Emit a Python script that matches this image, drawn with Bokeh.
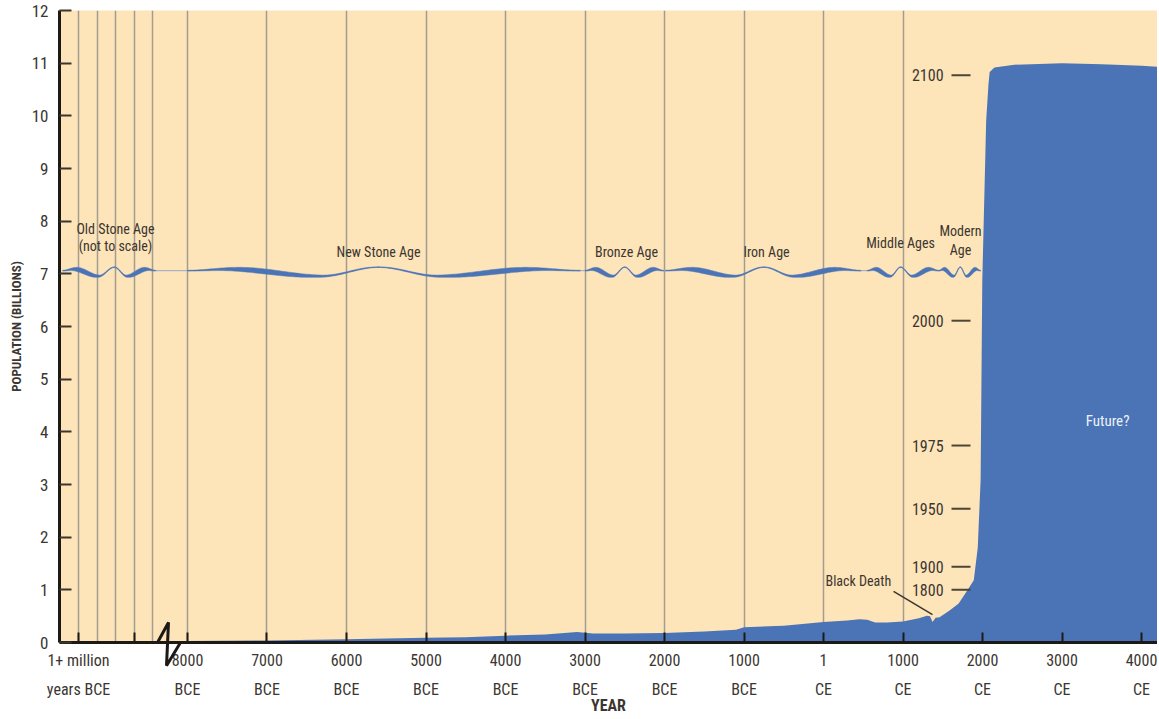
import numpy as np
from bokeh.plotting import figure
from bokeh.models import Range1d, FixedTicker
from bokeh.core.properties import value
from bokeh.embed import file_html
from bokeh.resources import INLINE

# ---------------- data ----------------
# world population (billions) by year (negative = BCE)
pop_years = [-8200, -8000, -7000, -6000, -5000, -4500, -4000, -3500, -3100, -2900,
             -2500, -2000, -1500, -1100, -1000, -500, 1, 300, 450, 550, 650, 800,
             1000, 1200, 1300, 1340, 1371, 1410, 1460, 1590, 1700, 1800, 1890,
             1940, 1976, 1997, 2046, 2075, 2090, 2150, 2400, 3000, 3500, 4000, 4200]
pop_billions = [0.02, 0.03, 0.04, 0.06, 0.09, 0.10, 0.13, 0.15, 0.20, 0.17,
                0.17, 0.18, 0.21, 0.24, 0.29, 0.32, 0.39, 0.42, 0.44, 0.43, 0.38, 0.38,
                0.40, 0.46, 0.51, 0.50, 0.39, 0.47, 0.48, 0.61, 0.74, 0.97, 1.18,
                1.80, 3.08, 6.87, 9.91, 10.60, 10.83, 10.92, 10.97, 11.00, 10.98, 10.95, 10.93]

# x-axis ticks (old stone age part is a compressed, not-to-scale region)
tick_pos = [-9371, -8667, -8000, -7000, -6000, -5000, -4000, -3000, -2000, -1000,
            0, 1000, 2000, 3000, 4000]
tick_labels = ["1+ million\nyears BCE", "", "8000\nBCE", "7000\nBCE", "6000\nBCE",
               "5000\nBCE", "4000\nBCE", "3000\nBCE", "2000\nBCE", "1000\nBCE",
               "1\nCE", "1000\nCE", "2000\nCE", "3000\nCE", "4000\nCE"]
grid_pos = [-9371, -9132, -8906, -8667, -8440, -8000, -7000, -6000, -5000, -4000,
            -3000, -2000, -1000, 0, 1000]
y_ticks = list(range(0, 13))

# ages: start, middle junction, end (display years)
age_start = [-9570, -8000, -3000, -1990, 550, 1450]
age_mid = [-8920, -5600, -2500, -750, 970, 1720]
age_end = [-8400, -3060, -2010, 470, 1450, 1975]
age_text = ["Old Stone Age", "(not to scale)", "New Stone Age", "Bronze Age",
            "Iron Age", "Middle Ages", "Modern", "Age"]
age_text_x = [-8906, -8906, -5597, -2478, -717, 969, 1723, 1723]
age_text_y = [7.86, 7.52, 7.42, 7.42, 7.42, 7.58, 7.82, 7.46]

# population reached in given years (labels beside the curve)
mark_years = ["2100", "2000", "1975", "1950", "1900", "1800"]
mark_pop = [10.77, 6.11, 3.74, 2.54, 1.44, 1.00]

# ---------------- style ----------------
FONT = "Roboto Condensed, Roboto"
TXT = "#3b3631"
BLUE = "#4a74b6"
PEACH = "#fde4b9"
PXY = 52.67  # pixels per billion (for decorative wave shapes)

p = figure(width=1157, height=719, x_range=Range1d(-9610, 4201), y_range=Range1d(0, 12),
           output_backend="svg", toolbar_location=None,
           min_border_left=59, min_border_right=0, min_border_top=10, min_border_bottom=77)
p.background_fill_color = PEACH
p.border_fill_color = "white"
p.outline_line_color = None

# y axis
p.yaxis.ticker = FixedTicker(ticks=y_ticks)
p.yaxis.axis_line_width = 3
p.yaxis.axis_line_color = "#1c1916"
p.yaxis.major_tick_in = 12
p.yaxis.major_tick_out = 0
p.yaxis.major_tick_line_width = 2
p.yaxis.major_tick_line_color = TXT
p.yaxis.minor_tick_line_color = None
p.yaxis.major_label_text_font = FONT
p.yaxis.major_label_text_font_size = "17px"
p.yaxis.major_label_text_color = TXT
p.yaxis.major_label_standoff = 11
p.yaxis.axis_label = "POPULATION (BILLIONS)"
p.yaxis.axis_label_text_font = FONT
p.yaxis.axis_label_text_font_size = "13px"
p.yaxis.axis_label_text_font_style = "bold"
p.yaxis.axis_label_text_color = TXT
p.yaxis.axis_label_standoff = 5

# x axis
p.xaxis.ticker = FixedTicker(ticks=tick_pos)
p.xaxis.major_label_overrides = {t: l for t, l in zip(tick_pos, tick_labels)}
p.xaxis.axis_line_width = 3
p.xaxis.axis_line_color = "#1c1916"
p.xaxis.major_tick_in = 10
p.xaxis.major_tick_out = 0
p.xaxis.major_tick_line_width = 2
p.xaxis.major_tick_line_color = "#1c1916"
p.xaxis.minor_tick_line_color = None
p.xaxis.major_label_text_font = FONT
p.xaxis.major_label_text_font_size = "16px"
p.xaxis.major_label_text_color = TXT
p.xaxis.major_label_text_line_height = 1.55
p.xaxis.major_label_standoff = 8
p.xaxis.axis_label = "YEAR"
p.xaxis.axis_label_text_font = FONT
p.xaxis.axis_label_text_font_size = "16px"
p.xaxis.axis_label_text_font_style = "bold"
p.xaxis.axis_label_text_color = TXT
p.xaxis.axis_label_standoff = -6

p.xgrid.ticker = FixedTicker(ticks=grid_pos)
p.xgrid.grid_line_color = "#a39c90"
p.xgrid.grid_line_width = 1.5
p.ygrid.grid_line_color = None

# population area
p.varea(x=pop_years, y1=0, y2=pop_billions, color=BLUE)

# decorative wave band of ages
WAVE_T = np.array([0.0, 0.22, 0.70, 1.0])
WAVE_DY = np.array([0.0, -1.5, 5.5, -3.5])
WID_T = np.array([0.0, 0.40, 0.85, 1.0])
WID = np.array([0.8, 5.0, 1.2, 0.6])
BASE = 7.06


def cos_interp(t, tp, vp):
    idx = np.clip(np.searchsorted(tp, t, side="right") - 1, 0, len(tp) - 2)
    mu = (t - tp[idx]) / (tp[idx + 1] - tp[idx])
    mu2 = (1 - np.cos(mu * np.pi)) / 2
    return vp[idx] * (1 - mu2) + vp[idx + 1] * mu2


patch_xs, patch_ys = [], []
center_x, center_y = [], []
for s, m, e in zip(age_start, age_mid, age_end):
    for a, b, flip in ((s, m, False), (m, e, True)):
        t = np.linspace(0, 1, 80)
        xs = a + t * (b - a)
        tt = 1 - t if flip else t
        c = BASE - cos_interp(tt, WAVE_T, WAVE_DY) / PXY
        hw = cos_interp(tt, WID_T, WID) / 2 / PXY
        patch_xs.append(np.concatenate([xs, xs[::-1]]).tolist())
        patch_ys.append(np.concatenate([c + hw, (c - hw)[::-1]]).tolist())
        center_x.extend(xs.tolist())
        center_y.extend(c.tolist())

p.line(center_x, center_y, line_width=1, line_color="#98a9c6")
p.patches(patch_xs, patch_ys, fill_color=BLUE, line_color=BLUE, line_width=0.5)

p.text(x=age_text_x, y=age_text_y, text=age_text, text_font=value(FONT),
       text_font_size="14px", text_color=TXT, text_align="center", text_baseline="middle")

# year markers beside the curve
p.text(x=[1510] * len(mark_years), y=mark_pop, text=mark_years, text_font=value(FONT),
       text_font_size="16px", text_color=TXT, text_align="right", text_baseline="middle")
p.segment(x0=[1610] * len(mark_pop), x1=[1849] * len(mark_pop), y0=mark_pop, y1=mark_pop,
          line_width=2, line_color="#4d4537")

# Black Death annotation
p.text(x=[25], y=[1.16], text=["Black Death"], text_font=value(FONT), text_font_size="14px",
       text_color=TXT, text_align="left", text_baseline="middle")
p.segment(x0=[881], y0=[0.97], x1=[1371], y1=[0.53], line_width=1.5, line_color=TXT)

p.text(x=[3573], y=[4.21], text=["Future?"], text_font=value(FONT), text_font_size="15px",
       text_color="#eef2f8", text_align="center", text_baseline="middle")

# axis break symbol
p.line(x=[-8377, -8239, -8264, -8088], y=[0, 0.38, -0.44, 0], line_width=3,
       line_color="#1c1916", level="overlay")

open("out.html", "w").write(file_html(p, INLINE))
